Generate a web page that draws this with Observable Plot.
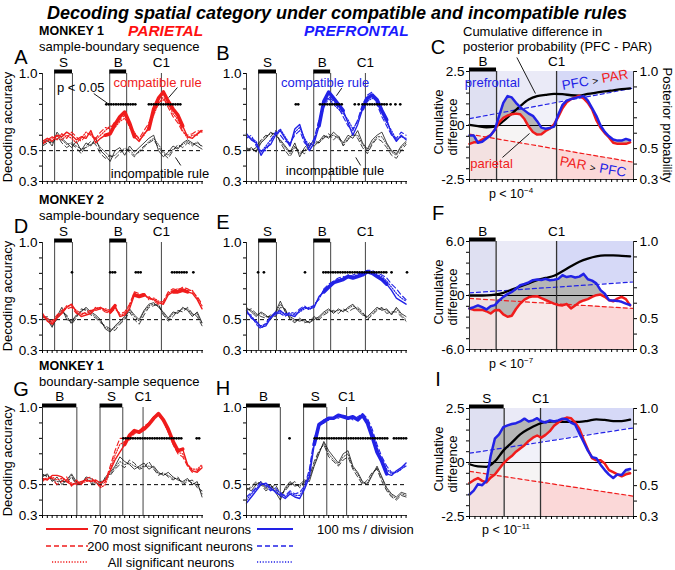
<!DOCTYPE html>
<html>
<head>
<meta charset="utf-8">
<script src="https://cdn.jsdelivr.net/npm/d3@7"></script>
<script src="https://cdn.jsdelivr.net/npm/@observablehq/plot@0.6"></script>
<style>
html,body{margin:0;padding:0;background:#fff;}
#wrap{position:relative;width:675px;height:570px;overflow:hidden;font-family:"Liberation Sans",Arial,Helvetica,sans-serif;color:#000;}
.t{position:absolute;white-space:nowrap;line-height:1;}
</style>
</head>
<body>
<div id="wrap"></div>
<script>
const RED = "#f01c1c", BLUE = "#2222e6";

// ---------- time axis (1 unit = one 100 ms division) ----------
const divisions = d3.range(34);
const divisionTicks = d3.range(0, 33.31, 1);
const accTicks = [0.3, 0.4, 0.5, 0.6, 0.7, 0.8, 0.9, 1.0];
const accTickLabels = ["0.3", "0.5", "1.0"];

// ---------- events ----------
const eventsSB = {bars: [{name: "S", start: 2.5, end: 6.2}, {name: "B", start: 13.9, end: 17.4}], cue: 24.6};
const eventsBSg = {bars: [{name: "B", start: 0, end: 7.1}, {name: "S", start: 11.9, end: 16.6}], cue: 20.8};
const eventsBSh = {bars: [{name: "B", start: 0, end: 7.0}, {name: "S", start: 11.8, end: 16.6}], cue: 20.7};

// ---------- Panel A: monkey 1, parietal, sample-boundary ----------
const A_comp70  = [0.56,0.58,0.56,0.60,0.59,0.62,0.60,0.57,0.59,0.58,0.63,0.55,0.58,0.60,0.61,0.67,0.72,0.75,0.68,0.59,0.56,0.61,0.64,0.77,0.84,0.88,0.82,0.77,0.73,0.66,0.59,0.58,0.61,0.63];
const A_comp200 = [0.54,0.57,0.59,0.57,0.61,0.58,0.62,0.59,0.56,0.60,0.61,0.58,0.62,0.65,0.64,0.69,0.70,0.73,0.65,0.61,0.58,0.63,0.68,0.75,0.80,0.85,0.78,0.72,0.68,0.62,0.60,0.61,0.63,0.62];
const A_compAll = [0.55,0.56,0.58,0.60,0.57,0.60,0.58,0.55,0.58,0.62,0.60,0.57,0.60,0.63,0.66,0.65,0.69,0.71,0.66,0.62,0.57,0.60,0.66,0.73,0.81,0.83,0.80,0.74,0.70,0.63,0.58,0.60,0.60,0.64];
const A_inc70   = [0.55,0.57,0.53,0.62,0.58,0.55,0.52,0.56,0.50,0.55,0.53,0.58,0.50,0.47,0.43,0.50,0.52,0.47,0.53,0.49,0.52,0.55,0.58,0.60,0.50,0.46,0.49,0.53,0.51,0.55,0.57,0.55,0.53,0.51];
const A_inc200  = [0.53,0.55,0.56,0.60,0.55,0.52,0.54,0.52,0.48,0.53,0.56,0.54,0.48,0.45,0.47,0.45,0.48,0.52,0.49,0.46,0.50,0.53,0.55,0.57,0.52,0.48,0.45,0.50,0.54,0.52,0.55,0.53,0.56,0.52];
const A_incAll  = [0.54,0.56,0.55,0.58,0.57,0.54,0.55,0.53,0.51,0.52,0.54,0.56,0.52,0.49,0.46,0.47,0.50,0.50,0.51,0.47,0.49,0.52,0.56,0.58,0.54,0.49,0.47,0.51,0.52,0.54,0.56,0.54,0.55,0.53];
const A_sig = [[13.2,19.4],[22.0,28.9]];
const A_thick = [[13.2,19.4],[22.0,28.9]];

// ---------- Panel B: monkey 1, prefrontal, sample-boundary ----------
const B_comp70  = [0.61,0.57,0.55,0.47,0.52,0.54,0.60,0.63,0.58,0.53,0.64,0.67,0.57,0.50,0.55,0.66,0.82,0.88,0.84,0.80,0.76,0.68,0.60,0.67,0.77,0.84,0.86,0.83,0.76,0.70,0.61,0.56,0.60,0.57];
const B_comp200 = [0.58,0.60,0.53,0.50,0.50,0.56,0.62,0.60,0.56,0.55,0.60,0.63,0.55,0.52,0.58,0.70,0.80,0.85,0.82,0.78,0.72,0.66,0.63,0.70,0.80,0.86,0.88,0.80,0.72,0.66,0.60,0.58,0.62,0.60];
const B_compAll = [0.59,0.58,0.56,0.49,0.53,0.57,0.61,0.64,0.59,0.54,0.62,0.65,0.58,0.53,0.57,0.68,0.78,0.84,0.80,0.77,0.74,0.70,0.64,0.69,0.78,0.82,0.84,0.82,0.74,0.68,0.63,0.57,0.59,0.58];
const B_inc70   = [0.50,0.52,0.49,0.55,0.58,0.62,0.60,0.57,0.53,0.49,0.55,0.46,0.52,0.55,0.53,0.56,0.60,0.58,0.62,0.59,0.55,0.60,0.58,0.63,0.55,0.51,0.57,0.60,0.62,0.55,0.50,0.48,0.53,0.56];
const B_inc200  = [0.52,0.50,0.52,0.57,0.60,0.59,0.63,0.55,0.50,0.46,0.52,0.50,0.48,0.53,0.57,0.55,0.58,0.61,0.57,0.60,0.53,0.57,0.61,0.58,0.52,0.48,0.54,0.58,0.56,0.52,0.47,0.45,0.50,0.54];
const B_incAll  = [0.51,0.51,0.50,0.56,0.59,0.61,0.61,0.56,0.52,0.48,0.53,0.48,0.50,0.54,0.55,0.55,0.59,0.59,0.60,0.58,0.54,0.58,0.60,0.60,0.54,0.50,0.55,0.59,0.59,0.54,0.49,0.47,0.52,0.55];
const B_sig = [[10.2,10.8],[15.2,20.0],[22.4,22.6],[23.2,23.4],[24.0,29.0],[29.8,30.0],[30.8,31.0],[31.8,32.0]];
const B_thick = [[15.2,20.0],[24.0,29.0]];

// ---------- Panel D: monkey 2, parietal ----------
const D_comp70  = [0.54,0.49,0.47,0.51,0.54,0.58,0.60,0.55,0.52,0.53,0.54,0.57,0.58,0.56,0.55,0.59,0.52,0.53,0.57,0.66,0.65,0.66,0.64,0.63,0.61,0.60,0.66,0.68,0.68,0.69,0.68,0.67,0.63,0.57];
const D_comp200 = [0.52,0.50,0.49,0.53,0.56,0.57,0.58,0.54,0.53,0.55,0.56,0.56,0.57,0.55,0.54,0.57,0.54,0.55,0.60,0.68,0.67,0.66,0.65,0.62,0.60,0.62,0.68,0.70,0.69,0.71,0.70,0.68,0.65,0.60];
const D_compAll = [0.53,0.51,0.48,0.52,0.55,0.59,0.59,0.56,0.54,0.54,0.55,0.58,0.57,0.57,0.56,0.58,0.53,0.54,0.59,0.67,0.66,0.67,0.63,0.64,0.62,0.61,0.67,0.69,0.70,0.70,0.69,0.69,0.64,0.59];
const D_inc70   = [0.53,0.50,0.45,0.52,0.58,0.50,0.49,0.53,0.55,0.58,0.55,0.53,0.50,0.44,0.42,0.46,0.49,0.52,0.57,0.53,0.50,0.56,0.60,0.61,0.58,0.55,0.51,0.55,0.54,0.58,0.56,0.52,0.55,0.48];
const D_inc200  = [0.51,0.52,0.47,0.50,0.55,0.53,0.47,0.51,0.57,0.56,0.53,0.51,0.48,0.46,0.44,0.43,0.47,0.50,0.55,0.50,0.47,0.53,0.58,0.59,0.60,0.53,0.49,0.52,0.56,0.55,0.58,0.54,0.52,0.46];
const D_incAll  = [0.52,0.51,0.46,0.51,0.56,0.52,0.48,0.52,0.56,0.57,0.54,0.52,0.49,0.45,0.43,0.45,0.48,0.51,0.56,0.52,0.49,0.55,0.59,0.60,0.59,0.54,0.50,0.54,0.55,0.57,0.57,0.53,0.54,0.47];
const D_sig = [[6.1,6.1],[14.0,15.4],[19.3,20.7],[26.8,30.0],[31.2,31.2]];
const D_thick = [[14.0,15.4],[19.3,20.7],[26.8,30.0]];

// ---------- Panel E: monkey 2, prefrontal ----------
const E_comp70  = [0.56,0.51,0.49,0.45,0.46,0.51,0.54,0.56,0.53,0.53,0.52,0.56,0.58,0.57,0.58,0.65,0.68,0.71,0.74,0.75,0.76,0.78,0.77,0.78,0.79,0.81,0.80,0.78,0.76,0.73,0.69,0.64,0.62,0.60];
const E_comp200 = [0.54,0.53,0.47,0.44,0.48,0.52,0.55,0.54,0.52,0.55,0.54,0.57,0.59,0.56,0.60,0.63,0.70,0.73,0.75,0.77,0.78,0.77,0.79,0.80,0.80,0.82,0.82,0.80,0.79,0.77,0.73,0.70,0.66,0.63];
const E_compAll = [0.55,0.52,0.48,0.46,0.47,0.52,0.53,0.55,0.54,0.54,0.53,0.55,0.57,0.58,0.59,0.64,0.69,0.72,0.73,0.76,0.77,0.79,0.78,0.79,0.80,0.82,0.81,0.79,0.78,0.75,0.71,0.67,0.64,0.62];
const E_inc70   = [0.58,0.55,0.52,0.55,0.53,0.50,0.55,0.62,0.55,0.52,0.50,0.49,0.50,0.48,0.50,0.52,0.55,0.57,0.54,0.57,0.55,0.58,0.60,0.56,0.53,0.52,0.55,0.58,0.56,0.57,0.53,0.58,0.54,0.52];
const E_inc200  = [0.56,0.57,0.54,0.52,0.51,0.53,0.52,0.58,0.57,0.50,0.48,0.51,0.48,0.49,0.52,0.50,0.53,0.55,0.56,0.54,0.57,0.55,0.57,0.58,0.55,0.50,0.53,0.56,0.58,0.54,0.55,0.55,0.52,0.49];
const E_incAll  = [0.57,0.56,0.53,0.54,0.52,0.52,0.54,0.60,0.56,0.51,0.49,0.50,0.49,0.48,0.51,0.51,0.54,0.56,0.55,0.56,0.56,0.57,0.59,0.57,0.54,0.51,0.54,0.57,0.57,0.56,0.54,0.57,0.53,0.50];
const E_sig = [[2.4,2.4],[3.6,3.6],[12.1,12.5],[15.9,29.3],[30.0,30.0],[33.2,33.2]];
const E_thick = [[16,29]];

// ---------- Panel G: monkey 1, parietal, boundary-sample ----------
const G_comp70  = [0.54,0.53,0.56,0.56,0.55,0.52,0.50,0.51,0.52,0.53,0.52,0.53,0.51,0.53,0.59,0.66,0.71,0.76,0.82,0.85,0.84,0.86,0.89,0.93,0.96,0.92,0.86,0.78,0.72,0.73,0.63,0.59,0.58,0.61];
const G_comp200 = [0.52,0.55,0.54,0.50,0.52,0.55,0.49,0.53,0.50,0.54,0.55,0.51,0.49,0.52,0.62,0.72,0.80,0.80,0.79,0.83,0.85,0.88,0.90,0.94,0.95,0.93,0.85,0.76,0.70,0.68,0.62,0.58,0.59,0.62];
const G_compAll = [0.53,0.54,0.55,0.53,0.54,0.53,0.51,0.50,0.51,0.52,0.53,0.52,0.48,0.50,0.60,0.69,0.76,0.78,0.80,0.84,0.85,0.87,0.90,0.94,0.95,0.91,0.84,0.77,0.71,0.70,0.63,0.60,0.60,0.63];
const G_inc70   = [0.55,0.57,0.52,0.55,0.50,0.53,0.57,0.52,0.50,0.55,0.54,0.52,0.49,0.55,0.58,0.62,0.68,0.65,0.63,0.60,0.62,0.64,0.60,0.62,0.58,0.56,0.58,0.55,0.53,0.52,0.54,0.50,0.52,0.42];
const G_inc200  = [0.57,0.55,0.54,0.50,0.53,0.51,0.55,0.50,0.52,0.53,0.51,0.50,0.52,0.53,0.56,0.60,0.63,0.61,0.66,0.64,0.60,0.61,0.65,0.60,0.56,0.58,0.55,0.53,0.55,0.50,0.52,0.53,0.48,0.46];
const G_incAll  = [0.56,0.56,0.53,0.52,0.52,0.52,0.56,0.51,0.51,0.54,0.52,0.51,0.50,0.54,0.57,0.61,0.65,0.63,0.64,0.62,0.61,0.62,0.62,0.61,0.57,0.57,0.56,0.54,0.54,0.51,0.53,0.51,0.50,0.44];
const G_sig = [[16.7,29.1],[31.9,32.6]];
const G_thick = [[17,29]];

// ---------- Panel H: monkey 1, prefrontal, boundary-sample ----------
const H_comp70  = [0.38,0.42,0.46,0.50,0.51,0.48,0.45,0.43,0.41,0.44,0.42,0.41,0.47,0.55,0.76,0.89,0.91,0.93,0.93,0.95,0.94,0.93,0.94,0.92,0.95,0.90,0.81,0.71,0.65,0.57,0.56,0.59,0.61,0.64];
const H_comp200 = [0.42,0.45,0.48,0.52,0.49,0.46,0.48,0.44,0.43,0.46,0.44,0.45,0.49,0.60,0.80,0.88,0.92,0.92,0.94,0.93,0.95,0.94,0.92,0.94,0.96,0.93,0.86,0.76,0.68,0.62,0.58,0.58,0.60,0.62];
const H_compAll = [0.40,0.44,0.47,0.51,0.50,0.47,0.46,0.45,0.42,0.45,0.43,0.43,0.48,0.58,0.78,0.88,0.90,0.92,0.93,0.94,0.94,0.93,0.93,0.93,0.95,0.91,0.84,0.74,0.66,0.60,0.57,0.58,0.60,0.63];
const H_inc70   = [0.48,0.46,0.50,0.52,0.48,0.50,0.45,0.40,0.48,0.52,0.49,0.50,0.53,0.52,0.62,0.70,0.78,0.72,0.68,0.64,0.70,0.72,0.62,0.58,0.52,0.50,0.56,0.62,0.55,0.48,0.44,0.42,0.45,0.44];
const H_inc200  = [0.46,0.49,0.52,0.50,0.46,0.48,0.50,0.44,0.46,0.50,0.52,0.48,0.51,0.55,0.65,0.72,0.76,0.68,0.65,0.62,0.66,0.68,0.60,0.55,0.50,0.53,0.58,0.60,0.52,0.46,0.42,0.40,0.43,0.42];
const H_incAll  = [0.47,0.48,0.51,0.51,0.47,0.49,0.47,0.42,0.47,0.51,0.50,0.49,0.52,0.54,0.63,0.71,0.77,0.70,0.66,0.63,0.68,0.70,0.61,0.57,0.51,0.51,0.57,0.61,0.54,0.47,0.43,0.41,0.44,0.43];
const H_sig = [[8.9,8.9],[14.1,29.1],[30.5,33.2]];
const H_thick = [[14,29]];

// ---------- Cumulative-difference panels (C, F, I) ----------
const cumSteps = d3.range(39).map(i => i * 0.5);
const cumStepsBlack = d3.range(20);
const cumXEnd = 19.4;
const cumXTicks = d3.range(31).map(i => i * cumXEnd / 30);
const probTicks = [0.3, 0.4, 0.5, 0.6, 0.7, 0.8, 0.9, 1.0];
const probTickLabels = ["0.3", "0.5", "1.0"];

const C_blue = [-0.46,-0.46,-0.80,-0.75,-0.60,-0.45,-0.20,0.45,1.05,1.36,1.30,1.05,0.85,0.70,0.55,0.45,0.20,-0.10,-0.15,-0.12,-0.05,0.50,0.95,1.15,1.22,1.28,1.32,1.36,1.15,0.80,0.45,0.00,-0.30,-0.50,-0.65,-0.70,-0.70,-0.62,-0.68];
const C_red  = [-0.85,-0.78,-0.77,-0.65,-0.55,-0.45,-0.20,0.15,0.35,0.46,0.52,0.55,0.52,0.30,-0.05,-0.30,-0.42,-0.40,-0.25,-0.15,0.05,0.40,0.80,1.08,1.22,1.30,1.38,1.25,1.05,0.75,0.25,-0.10,-0.35,-0.55,-0.80,-0.85,-0.85,-0.85,-0.78];
const C_cum  = [0.03,-0.03,-0.08,-0.05,0.20,0.55,0.90,1.20,1.36,1.42,1.46,1.45,1.40,1.38,1.46,1.52,1.58,1.63,1.68,1.72];
const C_dashBlue = [0.32, 1.73], C_dashRed = [-0.40, -1.70];
const C_ticks = [-2.5,-2,-1.5,-1,-0.5,0,0.5,1,1.5,2,2.5];
const C_tickLabels = {"2.5": "2.5", "0": "0", "-2.5": "-2.5"};

const F_blue = [-1.44,-1.30,-1.10,-1.30,-1.55,-1.20,-1.07,-0.55,-0.15,0.15,0.40,0.75,1.14,1.28,1.45,1.70,1.77,1.72,1.85,1.70,1.75,1.85,2.25,2.05,2.15,2.00,2.10,2.40,1.80,1.65,1.35,0.60,0.20,-0.52,-0.55,-0.60,-0.70,-0.90,-1.05];
const F_red  = [-1.44,-1.60,-1.62,-1.60,-1.75,-2.00,-1.65,-1.60,-2.10,-2.36,-2.25,-1.50,-0.90,-0.45,-0.20,-0.10,-0.07,-0.30,-0.50,-0.70,-0.90,-1.05,-1.10,-0.95,-1.44,-1.10,-0.75,-0.55,-0.40,-0.15,0.04,0.10,-0.15,-0.50,-0.65,-0.35,-0.15,-0.40,-1.10];
const F_cum  = [0.00,0.00,0.02,0.10,0.30,0.65,1.00,1.35,1.70,1.95,2.20,2.70,3.25,3.75,4.10,4.35,4.45,4.45,4.40,4.35];
const F_dashBlue = [0.30, 1.50], F_dashRed = [-0.33, -1.44];
const F_ticks = [-6,-4.8,-3.6,-2.4,-1.2,0,1.2,2.4,3.6,4.8,6];
const F_tickLabels = {"6": "6.0", "0": "0", "-6": "-6.0"};

const I_blue = [-1.48,-1.30,-1.00,-1.05,-0.85,0.30,1.10,1.30,1.64,1.72,1.78,1.82,1.90,2.03,1.90,1.95,2.05,1.90,1.85,1.95,1.90,1.95,2.03,2.00,1.85,1.75,1.35,0.95,0.55,0.25,0.20,-0.10,-0.35,-0.56,-0.72,-0.55,-0.58,-0.35,-0.30];
const I_red  = [-0.95,-0.82,-0.72,-0.85,-0.92,-0.70,-0.56,-0.30,-0.05,0.15,0.30,0.50,0.65,0.80,1.00,1.15,1.25,1.15,1.28,1.45,1.70,1.85,2.00,2.08,2.05,1.85,1.55,1.05,0.60,0.20,0.10,0.10,-0.05,-0.35,-0.45,-0.55,-0.64,-0.55,-0.50];
const I_cum  = [-0.08,-0.18,-0.20,0.05,0.55,0.92,1.30,1.55,1.75,1.88,1.90,1.88,1.88,1.88,1.93,2.00,1.97,1.92,1.92,1.98];
const I_dashBlue = [0.43, 1.60], I_dashRed = [-0.41, -1.56];

const eventsC = {bar: {name: "B", start: 0, end: 3.2}, cue: 10.3};
const eventsF = {bar: {name: "B", start: 0, end: 3.15}, cue: 10.3};
const eventsI = {bar: {name: "S", start: 0, end: 4.1}, cue: 8.4};

// background tint per region (before stimulus end, stimulus end to C1, after C1) and band (top, upper-mid, lower-mid, bottom)
const bandColors = [
  ["#dfe0f2", "#e6e7f5", "#f1eeee", "#f3e1e1"],
  ["#eaeaf7", "#f1f1f9", "#f6f4f4", "#f7e9e9"],
  ["#d6d9f7", "#ffffff", "#ffffff", "#fbd8d8"]
];

// annotations (data coordinates)
const A_notes = [{x: 7.9, y: 0.905, text: "p < 0.05", color: "#000"}, {x: 23.8, y: 0.94, text: "compatible rule", color: RED}, {x: 24.3, y: 0.352, text: "incompatible rule", color: "#000"}];
const A_links = [{x1: 10.6, y1: 0.87, x2: 13.5, y2: 0.806}, {x1: 27.9, y1: 0.909, x2: 26.1, y2: 0.844}, {x1: 28.6, y1: 0.404, x2: 27.5, y2: 0.456}];
const B_notes = [{x: 16.25, y: 0.94, text: "compatible rule", color: BLUE}, {x: 18.3, y: 0.371, text: "incompatible rule", color: "#000"}];
const B_links = [{x1: 19.7, y1: 0.905, x2: 18.6, y2: 0.856}, {x1: 22.6, y1: 0.456, x2: 23.6, y2: 0.404}];
const C_notes = [{x: 2.7, y: 1.99, text: "prefrontal", color: BLUE}, {x: 2.6, y: -1.76, text: "parietal", color: RED}];
const C_links = [{x1: 3.9, y1: -1.48, x2: 7.1, y2: -0.37}, {x1: 5.6, y1: 3.15, x2: 7.8, y2: 1.48}];

const legendLabels = ["70 most significant neurons", "200 most significant neurons", "All significant neurons"];
const lineStyles = [{dash: null, w: 1.4}, {dash: "5,3", w: 1.1}, {dash: "1.2,1.6", w: 1.2}];

// ---------- helpers ----------
const wrap = document.getElementById("wrap");
const FONT = '"Liberation Sans", Arial, Helvetica, sans-serif';

function place(svg, left, top) {
  Object.assign(svg.style, {position: "absolute", left: left + "px", top: top + "px", background: "transparent", overflow: "visible", maxWidth: "none"});
  wrap.appendChild(svg);
}

function label(html, x, y, o = {}) {
  const d = document.createElement("div");
  d.className = "t";
  d.innerHTML = html;
  const ax = o.anchor === "start" ? "0" : o.anchor === "end" ? "-100%" : "-50%";
  Object.assign(d.style, {
    left: x + "px", top: y + "px",
    fontSize: (o.size || 13) + "px",
    color: o.color || "#000",
    fontWeight: o.bold ? "bold" : "normal",
    fontStyle: o.italic ? "italic" : "normal",
    transform: `translate(${ax},-50%)` + (o.rotate ? ` rotate(${o.rotate}deg)` : "")
  });
  wrap.appendChild(d);
}

function decodingPanel(cfg) {
  const {frameLeft, frameTop, color, comp, inc, sig, sigLevel, thick, ev, notes = [], links = []} = cfg;
  const W = 161, H = 108, mL = 42, mR = 6, mT = 30, mB = 8;
  const series = arr => divisions.map((t, i) => ({t, v: arr[i]}));
  const eventLines = ev.bars.flatMap(b => [b.start, b.end]).filter(x => x > 0).concat([ev.cue]);
  const sigDots = sig.flatMap(([a, b]) => d3.range(a, b + 0.001, 0.5).map(t => ({t})));
  const main = series(comp[0]);
  const plot = Plot.plot({
    width: mL + W + mR, height: mT + H + mB,
    marginLeft: mL, marginRight: mR, marginTop: mT, marginBottom: mB,
    x: {domain: [0, 33.3], label: null},
    y: {domain: [0.3, 1.0], label: null},
    style: {fontFamily: FONT, fontSize: "13.5px"},
    marks: [
      Plot.ruleY([0.5], {stroke: "#000", strokeWidth: 1, strokeDasharray: "4,3"}),
      Plot.ruleX(eventLines, {y1: 0.3, y2: 1.0, stroke: "#555", strokeWidth: 1.1}),
      ...inc.slice().reverse().map((arr, k) => {
        const s = lineStyles[2 - k];
        return Plot.line(series(arr), {x: "t", y: "v", stroke: "#111", strokeWidth: 0.8, strokeDasharray: s.dash || undefined});
      }),
      ...comp.slice().reverse().map((arr, k) => {
        const s = lineStyles[2 - k];
        return Plot.line(series(arr), {x: "t", y: "v", stroke: color, strokeWidth: s.w, strokeDasharray: s.dash || undefined});
      }),
      ...thick.map(([a, b]) => Plot.line(main.filter(d => d.t >= a - 0.5 && d.t <= b + 0.5), {x: "t", y: "v", stroke: color, strokeWidth: 3.6})),
      Plot.dot(sigDots, {x: "t", y: sigLevel, r: 1.35, fill: "#000", stroke: "none"}),
      Plot.ruleY(ev.bars, {y: 1.0, x1: "start", x2: "end", stroke: "#000", strokeWidth: 4, dy: -2}),
      Plot.text(ev.bars, {x: d => (d.start + d.end) / 2, y: 1.0, text: "name", dy: -11, fontSize: 13.5}),
      Plot.text([{x: ev.cue}], {x: "x", y: 1.0, text: () => "C1", dy: -11, fontSize: 13.5}),
      Plot.ruleX([0], {y1: 0.3, y2: 1.0, stroke: "#333"}),
      Plot.ruleY([0.3], {stroke: "#333"}),
      Plot.axisY(accTicks, {tickSize: 3, tickPadding: 2, fontSize: 13.5, label: null,
        tickFormat: d => accTickLabels.includes(d.toFixed(1)) ? d.toFixed(1) : ""}),
      Plot.axisX(divisionTicks, {tickSize: 3, label: null, fill: "none", tickFormat: () => ""}),
      Plot.link(links, {x1: "x1", y1: "y1", x2: "x2", y2: "y2", stroke: "#000", strokeWidth: 0.9}),
      Plot.text(notes, {x: "x", y: "y", text: "text", fill: d => d.color, fontSize: 13})
    ]
  });
  place(plot, frameLeft - mL, frameTop - mT);
}

function cumPanel(cfg) {
  const {frameLeft, frameTop, yMax, ticks, tickLabels, blue, red, cum, dashBlue, dashRed, ev, notes = [], links = []} = cfg;
  const W = 164, H = 108, mL = 36, mR = 40, mT = 24, mB = 8;
  const rows = cumSteps.map((x, i) => ({x, b: blue[i], r: red[i]}));
  const blk = cumStepsBlack.map((x, i) => ({x, v: cum[i]}));
  const dashAt = (ln, x) => ln[0] + (ln[1] - ln[0]) * x / cumXEnd;
  const regions = [[0, ev.bar.end], [ev.bar.end, ev.cue], [ev.cue, cumXEnd]];
  const bands = [
    {lo: d => dashAt(dashBlue, d.x), hi: () => yMax},
    {lo: () => 0, hi: d => dashAt(dashBlue, d.x)},
    {lo: d => dashAt(dashRed, d.x), hi: () => 0},
    {lo: () => -yMax, hi: d => dashAt(dashRed, d.x)}
  ];
  const bandMarks = regions.flatMap(([a, b], ri) => bands.map((bd, bi) =>
    Plot.areaY([{x: a}, {x: b}], {x: "x", y1: bd.lo, y2: bd.hi, fill: bandColors[ri][bi]})));
  const toLeft = p => -yMax + (p - 0.3) / 0.7 * 2 * yMax;
  const fromLeft = v => 0.3 + (v + yMax) / (2 * yMax) * 0.7;
  const plot = Plot.plot({
    width: mL + W + mR, height: mT + H + mB,
    marginLeft: mL, marginRight: mR, marginTop: mT, marginBottom: mB,
    x: {domain: [0, cumXEnd], label: null},
    y: {domain: [-yMax, yMax], label: null},
    style: {fontFamily: FONT, fontSize: "13.5px"},
    marks: [
      ...bandMarks,
      Plot.areaY(rows, {x: "x", y1: "r", y2: d => Math.max(d.b, d.r), fill: "#b6b6b6"}),
      Plot.ruleY([0], {stroke: "#000", strokeWidth: 1}),
      Plot.line([{x: 0, y: dashBlue[0]}, {x: cumXEnd, y: dashBlue[1]}], {x: "x", y: "y", stroke: BLUE, strokeWidth: 1.2, strokeDasharray: "4,3"}),
      Plot.line([{x: 0, y: dashRed[0]}, {x: cumXEnd, y: dashRed[1]}], {x: "x", y: "y", stroke: RED, strokeWidth: 1.2, strokeDasharray: "4,3"}),
      Plot.ruleX([ev.bar.end, ev.cue], {y1: -yMax, y2: yMax, stroke: "#333", strokeWidth: 1.3}),
      Plot.line(blk, {x: "x", y: "v", stroke: "#000", strokeWidth: 2.3, curve: "monotone-x"}),
      Plot.line(rows, {x: "x", y: "r", stroke: RED, strokeWidth: 2.5}),
      Plot.line(rows, {x: "x", y: "b", stroke: BLUE, strokeWidth: 2.5}),
      Plot.ruleX([0, cumXEnd], {y1: -yMax, y2: yMax, stroke: "#333"}),
      Plot.ruleY([-yMax], {stroke: "#333"}),
      Plot.axisY(ticks, {anchor: "left", tickSize: 3, tickPadding: 2, fontSize: 13.5, label: null,
        tickFormat: d => tickLabels[String(d)] || ""}),
      Plot.axisY(probTicks.map(toLeft), {anchor: "right", tickSize: 3, tickPadding: 3, fontSize: 13.5, label: null,
        tickFormat: d => { const p = fromLeft(d).toFixed(1); return probTickLabels.includes(p) ? p : ""; }}),
      Plot.axisX(cumXTicks, {tickSize: 3, label: null, fill: "none", tickFormat: () => ""}),
      Plot.ruleY([ev.bar], {y: yMax, x1: "start", x2: "end", stroke: "#000", strokeWidth: 4, dy: -2}),
      Plot.text([ev.bar], {x: d => (d.start + d.end) / 2, y: yMax, text: "name", dy: -10, fontSize: 13.5}),
      Plot.text([{x: ev.cue}], {x: "x", y: yMax, text: () => "C1", dy: -10, fontSize: 13.5}),
      Plot.link(links, {x1: "x1", y1: "y1", x2: "x2", y2: "y2", stroke: "#000", strokeWidth: 0.9}),
      Plot.text(notes, {x: "x", y: "y", text: "text", fill: d => d.color, fontSize: 13})
    ]
  });
  place(plot, frameLeft - mL, frameTop - mT);
}

// ---------- draw panels ----------
decodingPanel({frameLeft: 42, frameTop: 73, color: RED, comp: [A_comp70, A_comp200, A_compAll], inc: [A_inc70, A_inc200, A_incAll], sig: A_sig, sigLevel: 0.80, thick: A_thick, ev: eventsSB, notes: A_notes, links: A_links});
decodingPanel({frameLeft: 246, frameTop: 73, color: BLUE, comp: [B_comp70, B_comp200, B_compAll], inc: [B_inc70, B_inc200, B_incAll], sig: B_sig, sigLevel: 0.80, thick: B_thick, ev: eventsSB, notes: B_notes, links: B_links});
decodingPanel({frameLeft: 42, frameTop: 242, color: RED, comp: [D_comp70, D_comp200, D_compAll], inc: [D_inc70, D_inc200, D_incAll], sig: D_sig, sigLevel: 0.807, thick: D_thick, ev: eventsSB});
decodingPanel({frameLeft: 246, frameTop: 242, color: BLUE, comp: [E_comp70, E_comp200, E_compAll], inc: [E_inc70, E_inc200, E_incAll], sig: E_sig, sigLevel: 0.807, thick: E_thick, ev: eventsSB});
decodingPanel({frameLeft: 42, frameTop: 407, color: RED, comp: [G_comp70, G_comp200, G_compAll], inc: [G_inc70, G_inc200, G_incAll], sig: G_sig, sigLevel: 0.80, thick: G_thick, ev: eventsBSg});
decodingPanel({frameLeft: 246, frameTop: 407, color: BLUE, comp: [H_comp70, H_comp200, H_compAll], inc: [H_inc70, H_inc200, H_incAll], sig: H_sig, sigLevel: 0.80, thick: H_thick, ev: eventsBSh});

cumPanel({frameLeft: 469, frameTop: 71, yMax: 2.5, ticks: C_ticks, tickLabels: C_tickLabels, blue: C_blue, red: C_red, cum: C_cum, dashBlue: C_dashBlue, dashRed: C_dashRed, ev: eventsC, notes: C_notes, links: C_links});
cumPanel({frameLeft: 469, frameTop: 241, yMax: 6, ticks: F_ticks, tickLabels: F_tickLabels, blue: F_blue, red: F_red, cum: F_cum, dashBlue: F_dashBlue, dashRed: F_dashRed, ev: eventsF});
cumPanel({frameLeft: 469, frameTop: 408, yMax: 2.5, ticks: C_ticks, tickLabels: C_tickLabels, blue: I_blue, red: I_red, cum: I_cum, dashBlue: I_dashBlue, dashRed: I_dashRed, ev: eventsI});

// ---------- texts ----------
label("Decoding spatial category under compatible and incompatible rules", 47, 13, {anchor: "start", size: 18, bold: true, italic: true});
label("MONKEY 1", 39, 31, {anchor: "start", size: 12.5, bold: true});
label("PARIETAL", 128, 31, {anchor: "start", size: 15.5, bold: true, italic: true, color: "#ff1010"});
label("PREFRONTAL", 304, 31, {anchor: "start", size: 15.5, bold: true, italic: true, color: "#1a1aff"});
label("sample-boundary sequence", 39, 46, {anchor: "start", size: 13});
label("Cumulative difference in", 463, 31, {anchor: "start", size: 13});
label("posterior probability (PFC - PAR)", 463, 46, {anchor: "start", size: 13});

label("MONKEY 2", 39, 200, {anchor: "start", size: 12.5, bold: true});
label("sample-boundary sequence", 39, 215, {anchor: "start", size: 13});
label("MONKEY 1", 39, 366, {anchor: "start", size: 12.5, bold: true});
label("boundary-sample sequence", 39, 381, {anchor: "start", size: 13});

const panelLetters = [["A", 21, 57], ["B", 223, 53], ["C", 438, 47], ["D", 21, 226], ["E", 223, 222], ["F", 438, 213], ["G", 21, 389], ["H", 223, 388], ["I", 438, 379]];
panelLetters.forEach(([s, x, y]) => label(s, x, y, {size: 20}));

[127, 296, 461].forEach(y => label("Decoding accuracy", 7, y, {size: 13, rotate: -90}));
[125, 295, 462].forEach(y => { label("Cumulative", 438, y - 3, {size: 13, rotate: -90}); label("difference", 452, y + 2, {size: 13, rotate: -90}); });
label("Posterior probability", 667, 125, {size: 13, rotate: 90});

label('p &lt; 10<sup style="font-size:8px">−4</sup>', 511, 194, {size: 12.5});
label('p &lt; 10<sup style="font-size:8px">−7</sup>', 511, 364, {size: 12.5});
label('p &lt; 10<sup style="font-size:8px">−11</sup>', 506, 530, {size: 12.5});

label(`<span style="color:${BLUE}">PFC</span> <span style="font-size:10px">&gt;</span> <span style="color:${RED}">PAR</span>`, 595, 80, {size: 13.5, rotate: -10});
label(`<span style="color:${RED}">PAR</span> <span style="font-size:10px">&gt;</span> <span style="color:${BLUE}">PFC</span>`, 593, 167, {size: 13.5, rotate: 10});

// ---------- legend ----------
const legendRowsY = [529, 546, 562];
const legendTextX = [172, 170, 171];
legendLabels.forEach((s, i) => label(s, legendTextX[i], legendRowsY[i], {size: 13}));
const legSvg = document.createElementNS("http://www.w3.org/2000/svg", "svg");
legSvg.setAttribute("width", 675); legSvg.setAttribute("height", 570);
Object.assign(legSvg.style, {position: "absolute", left: "0px", top: "0px", pointerEvents: "none"});
legSvg.innerHTML = legendRowsY.map((y, i) => {
  const s = lineStyles[i];
  const da = s.dash ? `stroke-dasharray="${s.dash}"` : "";
  const w = i === 0 ? 2 : 1.4;
  return `<line x1="${i === 2 ? 52 : 46}" x2="88" y1="${y}" y2="${y}" stroke="${RED}" stroke-width="${w}" ${da}/>` +
         `<line x1="257" x2="293" y1="${y}" y2="${y}" stroke="${BLUE}" stroke-width="${w}" ${da}/>`;
}).join("");
wrap.appendChild(legSvg);
label("100 ms / division", 317, 529, {anchor: "start", size: 13});
</script>
</body>
</html>
